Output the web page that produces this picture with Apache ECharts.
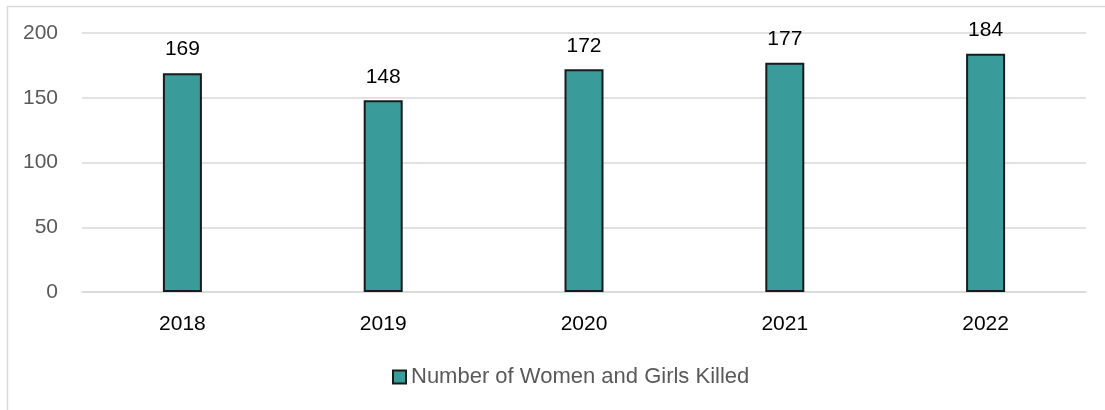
<!DOCTYPE html>
<html>
<head>
<meta charset="utf-8">
<script src="https://cdn.jsdelivr.net/npm/echarts@6/dist/echarts.min.js"></script>
<style>
  html, body { margin: 0; padding: 0; background: #fff; }
  #chart { width: 1105px; height: 410px; }
</style>
</head>
<body>
<div id="chart"></div>
<script>
// data
let years = ['2018', '2019', '2020', '2021', '2022'];
let killed = [169, 148, 172, 177, 184];
let yTicks = [0, 50, 100, 150, 200];

let font = 'Liberation Sans, Noto Sans, sans-serif';

let myChart = echarts.init(document.getElementById('chart'));

let option = {
    animation: false,
    backgroundColor: '#fff',
    graphic: [{
        // outer frame, only top and left edges are inside the picture
        type: 'rect',
        left: 5,
        top: 4,
        shape: { width: 1200, height: 500 },
        style: { fill: 'none', stroke: '#d9d9d9', lineWidth: 1.5 },
        silent: true
    }],
    grid: {
        left: 82,
        right: 19,
        top: 33,
        bottom: 118
    },
    legend: {
        bottom: 17,
        left: 387,
        icon: 'rect',
        itemWidth: 13,
        itemHeight: 13,
        itemGap: 5,
        itemStyle: { borderColor: '#1a1a1a', borderWidth: 2 },
        textStyle: { color: '#595959', fontSize: 22, fontFamily: font },
        data: ['Number of Women and Girls Killed']
    },
    xAxis: {
        type: 'category',
        data: years,
        axisLine: { show: true, lineStyle: { color: '#d9d9d9', width: 1.5 } },
        axisTick: { show: false },
        axisLabel: { color: '#000', fontSize: 21, fontFamily: font, margin: 22 }
    },
    yAxis: {
        type: 'value',
        min: yTicks[0],
        max: yTicks[yTicks.length - 1],
        interval: 50,
        axisLine: { show: false },
        axisTick: { show: false },
        splitLine: { lineStyle: { color: '#d9d9d9', width: 1.5 } },
        axisLabel: { color: '#595959', fontSize: 21, fontFamily: font, margin: 24 }
    },
    series: [{
        name: 'Number of Women and Girls Killed',
        type: 'bar',
        data: killed,
        barWidth: 39,
        itemStyle: {
            color: '#3a9c9a',
            borderColor: '#1a1a1a',
            borderWidth: 2
        },
        label: {
            show: true,
            position: 'top',
            distance: 13,
            color: '#000',
            fontSize: 21,
            fontFamily: font
        }
    }]
};

myChart.setOption(option);
</script>
</body>
</html>
